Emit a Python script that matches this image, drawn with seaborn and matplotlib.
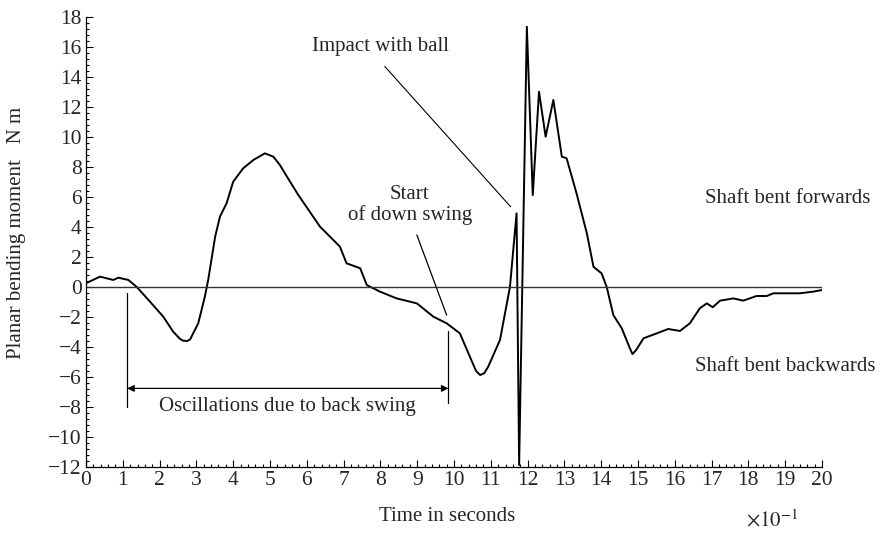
import matplotlib
matplotlib.use("Agg")
import matplotlib.pyplot as plt
import numpy as np
import pandas as pd
import seaborn as sns
from matplotlib.ticker import MultipleLocator

# time (x10^-1 s) and planar bending moment (N m)
time = [0.0, 0.38, 0.74, 0.88, 1.15, 1.38, 1.74, 2.10, 2.37, 2.55, 2.64, 2.75,
        2.83, 3.05, 3.23, 3.32, 3.51, 3.64, 3.82, 4.00, 4.27, 4.55, 4.86, 5.09,
        5.27, 5.45, 5.77, 6.36, 6.90, 7.08, 7.45, 7.63, 7.99, 8.44, 8.99, 9.44,
        9.80, 10.16, 10.43, 10.60, 10.71, 10.82, 10.93, 11.25, 11.52, 11.70,
        11.77, 11.98, 12.14, 12.31, 12.49, 12.70, 12.93, 13.06, 13.33, 13.61,
        13.79, 14.01, 14.15, 14.33, 14.56, 14.78, 14.85, 14.95, 15.15, 15.51,
        15.82, 16.14, 16.41, 16.68, 16.87, 17.03, 17.23, 17.59, 17.86, 18.22,
        18.50, 18.68, 19.40, 19.76, 20.0]
moment = [0.25, 0.69, 0.47, 0.62, 0.47, 0.0, -0.98, -1.98, -2.98, -3.45, -3.58,
          -3.6, -3.49, -2.42, -0.64, 0.47, 3.36, 4.69, 5.58, 7.02, 7.91, 8.47,
          8.91, 8.69, 8.13, 7.4, 6.13, 4.02, 2.69, 1.58, 1.25, 0.13, -0.31,
          -0.76, -1.09, -1.98, -2.42, -3.09, -4.64, -5.6, -5.87, -5.75, -5.31,
          -3.53, 0.0, 4.91, -11.87, 17.35, 6.13, 13.02, 10.02, 12.47, 8.69,
          8.58, 6.24, 3.58, 1.35, 0.91, 0.0, -1.87, -2.76, -4.09, -4.47, -4.2,
          -3.42, -3.09, -2.8, -2.93, -2.42, -1.42, -1.09, -1.35, -0.91, -0.76,
          -0.91, -0.6, -0.6, -0.42, -0.42, -0.31, -0.2]

df = pd.DataFrame({"time": time, "moment": moment})

sns.set_theme(style="ticks")
plt.rcParams["font.family"] = ["Liberation Serif", "DejaVu Serif"]
plt.rcParams["mathtext.fontset"] = "stix"
plt.rcParams["axes.unicode_minus"] = True

fig = plt.figure(figsize=(8.82, 5.35), dpi=100)
ax = fig.add_axes([86 / 882, 1 - 467 / 535, 736 / 882, 450 / 535])

sns.lineplot(data=df, x="time", y="moment", color="black", linewidth=1.4,
             estimator=None, sort=False, ax=ax)
ax.axhline(0, color="#333333", linewidth=1.0)

ax.set_xlim(0, 20)
ax.set_ylim(-12, 18)
ax.xaxis.set_major_locator(MultipleLocator(1))
ax.xaxis.set_minor_locator(MultipleLocator(0.2))
ax.yaxis.set_major_locator(MultipleLocator(2))
ax.yaxis.set_minor_locator(MultipleLocator(0.4))
ax.tick_params(which="both", direction="in", width=0.8, color="black")
ax.tick_params(which="major", length=5, labelsize=15.5, pad=3)
ax.tick_params(which="minor", length=2.5)
sns.despine(ax=ax)
for s in ("left", "bottom"):
    ax.spines[s].set_color("black")
    ax.spines[s].set_linewidth(0.9)

ax.set_xlabel("Time in seconds", fontsize=15)
ax.xaxis.set_label_coords(0.49, -0.11)
ax.xaxis.label.set_va("center")
ax.set_ylabel("Planar bending moment   N m", fontsize=15)
ax.yaxis.set_label_coords(-0.094, 0.52)
ax.yaxis.label.set_va("center")

fig.text(771.7 / 882, 4 / 535, r"$\times10^{-1}$", fontsize=15,
         ha="center", va="bottom")

# annotations
ax.text(8.0, 16.0, "Impact with ball", fontsize=15, ha="center", va="center")
ax.plot([8.12, 11.54], [14.7, 5.35], color="black", lw=0.8)
ax.text(8.8, 5.45, "Start\nof down swing", fontsize=15, ha="center",
        va="center", linespacing=1.1)
ax.plot([8.99, 9.80], [3.47, -1.87], color="black", lw=0.9)
ax.plot([1.12, 1.12], [-0.42, -7.98], color="black", lw=0.9)
ax.plot([9.85, 9.85], [-2.93, -7.76], color="black", lw=0.9)
ax.annotate("", xy=(1.12, -6.76), xytext=(9.85, -6.76),
            arrowprops=dict(arrowstyle="<|-|>", lw=0.9, color="black",
                            mutation_scale=10, shrinkA=0, shrinkB=0))
ax.text(5.47, -7.98, "Oscillations due to back swing", fontsize=15,
        ha="center", va="center")
ax.text(19.06, 5.91, "Shaft bent forwards", fontsize=15, ha="center",
        va="center", clip_on=False)
ax.text(18.99, -5.31, "Shaft bent backwards", fontsize=15, ha="center",
        va="center", clip_on=False)

fig.savefig("out.png", dpi=100)
